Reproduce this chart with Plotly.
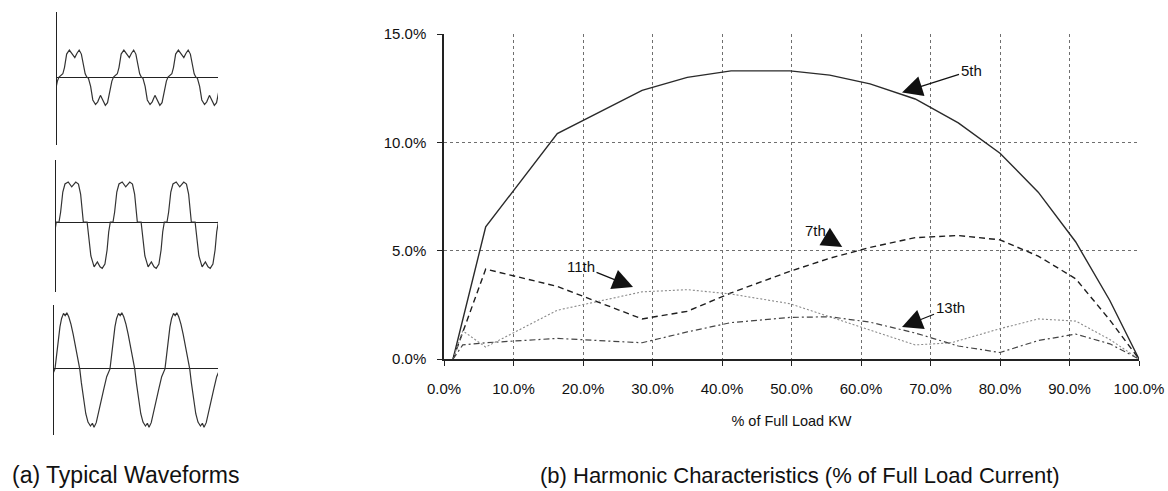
import plotly.graph_objects as go

# ---------------- Harmonic characteristics (panel b) ----------------
load_5th = [1.3, 6.0, 16.3, 28.5, 35.0, 41.3, 49.8, 55.5, 61.3, 67.8, 74.0, 80.0, 85.5, 90.9, 95.8, 100.0]
harm_5th = [0.0, 6.1, 10.4, 12.4, 13.0, 13.3, 13.3, 13.1, 12.7, 12.0, 10.9, 9.5, 7.7, 5.4, 2.7, 0.0]

load_7th = [1.3, 6.0, 16.3, 22.0, 28.5, 35.0, 41.3, 49.8, 55.5, 61.3, 67.8, 74.0, 80.0, 85.5, 90.9, 95.8, 100.0]
harm_7th = [0.0, 4.15, 3.35, 2.65, 1.85, 2.2, 3.05, 4.05, 4.65, 5.15, 5.6, 5.7, 5.5, 4.75, 3.7, 1.8, 0.0]

load_11th = [1.3, 2.7, 6.0, 10.0, 16.3, 28.5, 35.0, 41.3, 49.8, 67.8, 73.0, 80.0, 85.5, 90.9, 95.8, 100.0]
harm_11th = [0.0, 1.3, 0.55, 1.2, 2.25, 3.1, 3.2, 3.0, 2.55, 0.65, 0.75, 1.4, 1.85, 1.75, 0.9, 0.0]

load_13th = [1.3, 2.7, 6.0, 16.3, 28.5, 35.0, 41.3, 49.8, 55.5, 61.3, 67.8, 74.0, 80.0, 85.5, 90.9, 95.8, 100.0]
harm_13th = [0.0, 0.65, 0.75, 0.95, 0.75, 1.25, 1.68, 1.92, 1.95, 1.7, 1.2, 0.6, 0.3, 0.85, 1.15, 0.7, 0.0]

x_ticks = [0, 10, 20, 30, 40, 50, 60, 70, 80, 90, 100]
y_ticks = [0, 5, 10, 15]

# ---------------- Typical waveforms (panel a), one cycle each ----------------
# phase in cycles, value relative to positive peak
wave1_phase = [0.00, 0.04, 0.07, 0.10, 0.14, 0.19, 0.24, 0.29, 0.33, 0.37, 0.41, 0.45, 0.48, 0.51,
               0.54, 0.58, 0.62, 0.67, 0.71, 0.76, 0.80, 0.85, 0.89, 0.93, 0.97, 1.00]
wave1_value = [0.0, 0.08, 0.12, 0.35, 0.85, 1.0, 0.88, 0.72, 0.88, 1.0, 0.85, 0.4, 0.12, 0.0,
               -0.05, -0.35, -0.85, -1.02, -0.92, -0.68, -0.85, -1.05, -0.95, -0.55, -0.15, 0.0]

wave2_phase = [0.00, 0.03, 0.07, 0.11, 0.17, 0.235, 0.31, 0.36, 0.40, 0.43, 0.45, 0.52,
               0.55, 0.59, 0.65, 0.71, 0.76, 0.80, 0.85, 0.89, 0.92, 0.95, 1.00]
wave2_value = [0.0, 0.25, 0.75, 0.95, 1.0, 0.88, 1.0, 0.95, 0.7, 0.2, 0.0, 0.0,
               -0.35, -0.85, -1.12, -1.0, -1.12, -1.16, -1.05, -0.7, -0.25, 0.0, 0.0]

wave3_phase = [0.00, 0.03, 0.06, 0.09, 0.12, 0.155, 0.185, 0.215, 0.25, 0.29, 0.33, 0.37, 0.41, 0.45,
               0.48, 0.52, 0.56, 0.60, 0.645, 0.68, 0.71, 0.75, 0.79, 0.84, 0.89, 0.94, 1.00]
wave3_value = [0.0, 0.25, 0.52, 0.75, 0.9, 0.99, 0.95, 1.0, 0.93, 0.8, 0.62, 0.42, 0.2, 0.0,
               -0.25, -0.55, -0.8, -0.95, -1.02, -0.97, -1.04, -0.96, -0.8, -0.58, -0.35, -0.14, 0.0]

cycles = [-1, 0, 1, 2, 3]


def tile(phase, value):
    xs, ys = [], []
    for c in cycles:
        for p, v in zip(phase, value):
            xs.append(c + p)
            ys.append(v)
    return xs, ys


FONT = "Liberation Sans, Arial, Helvetica, sans-serif"
W, H = 1168, 491


def px_x(p):
    """screen pixel -> paper x"""
    return p / W


def px_y(p):
    """screen pixel -> paper y"""
    return 1 - p / H


fig = go.Figure()

# main chart traces
fig.add_trace(go.Scatter(x=load_5th, y=harm_5th, mode="lines", name="5th",
                         line=dict(color="#2a2a2a", width=1.4, dash="solid"), xaxis="x", yaxis="y"))
fig.add_trace(go.Scatter(x=load_7th, y=harm_7th, mode="lines", name="7th",
                         line=dict(color="#1e1e1e", width=1.4, dash="6px,4px"), xaxis="x", yaxis="y"))
fig.add_trace(go.Scatter(x=load_11th, y=harm_11th, mode="lines", name="11th",
                         line=dict(color="#8a8a8a", width=1.1, dash="2px,2px"), xaxis="x", yaxis="y"))
fig.add_trace(go.Scatter(x=load_13th, y=harm_13th, mode="lines", name="13th",
                         line=dict(color="#444444", width=1.2, dash="6px,3px,2px,3px"), xaxis="x", yaxis="y"))

# waveforms
for i, (ph, val) in enumerate([(wave1_phase, wave1_value), (wave2_phase, wave2_value),
                               (wave3_phase, wave3_value)], start=2):
    xs, ys = tile(ph, val)
    fig.add_trace(go.Scatter(x=xs, y=ys, mode="lines", line=dict(color="#333333", width=1.2),
                             xaxis=f"x{i}", yaxis=f"y{i}", showlegend=False))

grid = dict(showgrid=True, gridcolor="#6f6f6f", griddash="dot", gridwidth=1)

fig.update_layout(
    template="none",
    width=W, height=H, autosize=False,
    margin=dict(l=0, r=0, t=0, b=0, pad=0),
    paper_bgcolor="white", plot_bgcolor="white",
    showlegend=False,
    font=dict(family=FONT, color="#111111", size=15),
    xaxis=dict(domain=[px_x(444), px_x(1139)], range=[0, 100], tickmode="array", tickvals=x_ticks,
               ticktext=[f"{v:.1f}%" for v in x_ticks], automargin=False,
               ticks="outside", ticklen=5, tickcolor="#222", tickwidth=1,
               showline=True, linecolor="#222", linewidth=1.5, zeroline=False,
               tickfont=dict(size=15), ticklabelstandoff=10, anchor="y",
               title=dict(text="% of Full Load KW", font=dict(size=14.5), standoff=20), **grid),
    yaxis=dict(domain=[px_y(359), px_y(34)], range=[0, 15], tickmode="array", tickvals=y_ticks,
               ticktext=[f"{v:.1f}%" for v in y_ticks], automargin=False,
               ticks="outside", ticklen=5, tickcolor="#222", tickwidth=1,
               showline=True, linecolor="#222", linewidth=1.5, zeroline=False,
               tickfont=dict(size=15), ticklabelstandoff=8, anchor="x", **grid),
)

wave_axes = [
    # (x px left, x px right, y px top, y px bottom, x range, y range)
    (57, 218, 12, 145, [-0.037, 2.917], [-2.52, 2.41]),
    (56, 218, 160, 292, [-0.056, 2.944], [-1.75, 1.55]),
    (54, 218, 305, 435, [-0.018, 2.964], [-1.18, 1.14]),
]
for i, (xl, xr, yt, yb, xr_, yr_) in enumerate(wave_axes, start=2):
    fig.update_layout(**{
        f"xaxis{i}": dict(domain=[px_x(xl), px_x(xr)], range=xr_, visible=False, anchor=f"y{i}",
                          automargin=False),
        f"yaxis{i}": dict(domain=[px_y(yb), px_y(yt)], range=yr_, anchor=f"x{i}", automargin=False,
                          showline=True, linecolor="#222", linewidth=1.3, showgrid=False,
                          zeroline=True, zerolinecolor="#222", zerolinewidth=1.2,
                          showticklabels=False, ticks=""),
    })

# harmonic labels with arrows
arrow_common = dict(xref="x", yref="y", showarrow=True, arrowhead=2, arrowsize=3.4,
                    arrowwidth=1.2, arrowcolor="#111", font=dict(size=15, family=FONT, color="#111"))
fig.add_annotation(text="5th", x=65.9, y=12.3, ax=69, ay=-22, **arrow_common)
fig.add_annotation(text="7th", x=57.3, y=5.17, ax=-27, ay=-16, **arrow_common)
fig.add_annotation(text="11th", x=27.2, y=3.32, ax=-52, ay=-21, **arrow_common)
fig.add_annotation(text="13th", x=65.9, y=1.48, ax=48, ay=-19, **arrow_common)

# captions
fig.add_annotation(text="(a) Typical Waveforms", xref="paper", yref="paper",
                   x=px_x(126), y=px_y(475), showarrow=False, xanchor="center", yanchor="middle",
                   font=dict(size=23, family=FONT, color="#111"))
fig.add_annotation(text="(b) Harmonic Characteristics (% of Full Load Current)", xref="paper", yref="paper",
                   x=px_x(800), y=px_y(475), showarrow=False, xanchor="center", yanchor="middle",
                   font=dict(size=22, family=FONT, color="#111"))

# remove the browser's default page margin so the figure fills the window exactly
fig.write_html("out.html", config={"displayModeBar": False},
               post_script="document.body.style.margin='0';document.body.style.overflow='hidden';")
